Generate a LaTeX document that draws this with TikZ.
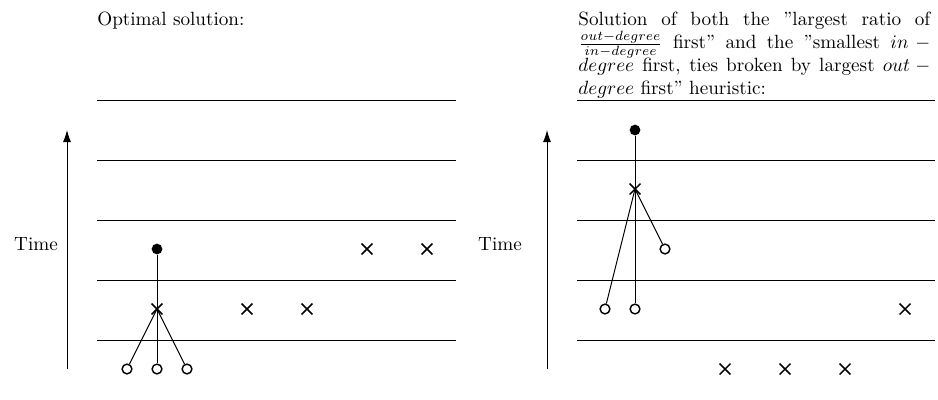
\documentclass[tikz,border=0pt]{standalone}
\usetikzlibrary{shapes.misc,arrows.meta}
\begin{document}
\begin{tikzpicture}[x=0.5217pt,y=-0.5217pt,
  hline/.style={line width=0.45pt},
  timearrow/.style={line width=0.5pt,-{Latex[length=6.3pt,width=4.2pt]}},
  opnode/.style={circle,draw,line width=0.75pt,inner sep=0pt,minimum size=5.1pt},
  resnode/.style={circle,fill,inner sep=0pt,minimum size=5.6pt},
  xnode/.style={cross out,draw,line width=0.75pt,inner sep=0pt,minimum size=4.9pt},
  edge/.style={line width=0.5pt},
  lbl/.style={font=\normalsize,inner sep=0pt}]
\useasboundingbox (0,0) rectangle (938,399);
% ---------- left panel ----------
\node[lbl,anchor=base west] (t1) at (97,25) {Optimal solution:};
\foreach \y [count=\i] in {100,160,220,280,340}
  \draw[hline] (97,\y) coordinate (la\i) -- (456,\y) coordinate (lb\i);
\coordinate (la0) at (67,369);
\coordinate (lat) at (67,130);
\draw[timearrow] (la0) -- (lat);
\node[lbl,anchor=base] (time1) at (36,250) {Time};
\node[resnode] (ld) at (157,249) {};
\node[xnode] (lx) at (157,309) {};
\node[opnode] (lc1) at (127,369) {};
\node[opnode] (lc2) at (157,369) {};
\node[opnode] (lc3) at (187,369) {};
\draw[edge] (ld) -- (lc2);
\draw[edge] (lx.center) -- (lc1);
\draw[edge] (lx.center) -- (lc3);
\node[xnode] (lx2) at (247,309) {};
\node[xnode] (lx3) at (307,309) {};
\node[xnode] (lx4) at (367,249) {};
\node[xnode] (lx5) at (427,249) {};
% ---------- right panel ----------
\node[lbl,anchor=north west,text width=183.6pt,align=justify] (t2) at (578,12)
  {Solution of both the ''largest ratio of $\frac{out-degree}{in-degree}$ first'' and the ''smallest $in-degree$ first, ties broken by largest $out-degree$ first'' heuristic:};
\foreach \y [count=\i] in {100,160,220,280,340}
  \draw[hline] (577,\y) coordinate (ra\i) -- (935,\y) coordinate (rb\i);
\coordinate (ra0) at (547,369);
\coordinate (rat) at (547,130);
\draw[timearrow] (ra0) -- (rat);
\node[lbl,anchor=base] (time2) at (500,250) {Time};
\node[resnode] (rd) at (635,130) {};
\node[xnode] (rx) at (635,189) {};
\node[opnode] (rc1) at (605,309) {};
\node[opnode] (rc2) at (635,309) {};
\node[opnode] (rc3) at (665,249) {};
\draw[edge] (rd) -- (rc2);
\draw[edge] (rx.center) -- (rc1);
\draw[edge] (rx.center) -- (rc3);
\node[xnode] (rx2) at (905,309) {};
\node[xnode] (rx3) at (725,369) {};
\node[xnode] (rx4) at (785,369) {};
\node[xnode] (rx5) at (845,369) {};
\end{tikzpicture}
\end{document}
